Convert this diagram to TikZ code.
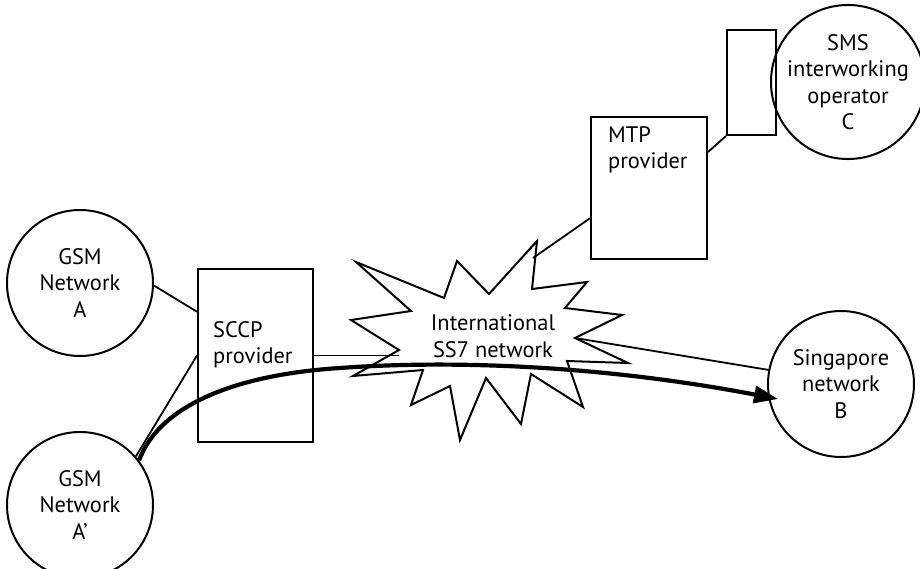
\documentclass[tikz,border=0pt]{standalone}
\usepackage{fontspec}
\setmainfont{PT Sans}
\usetikzlibrary{arrows.meta,calc}
\begin{document}
\begin{tikzpicture}[x=1bp,y=-1bp,
  every node/.style={font=\fontsize{22.5}{26.5}\selectfont},
  netcircle/.style={draw,circle,line width=2bp,minimum size=146bp,inner sep=0pt,align=center},
  box/.style={draw,rectangle,line width=2bp,inner sep=0pt},
  label text/.style={inner sep=0pt,align=left,anchor=west},
  link/.style={line width=1.8bp},
  route/.style={line width=4.2bp,-{Triangle[length=24bp,width=17bp]}}]
\useasboundingbox (0,0) rectangle (920,569);

% networks
\node[netcircle] (a)  at (80,283)  {GSM\\Network\\A};
\node[netcircle] (ap) at (80,505)  {GSM\\Network\\A’};
\node[netcircle] (b)  at (841,384) {Singapore\\network\\B};
\node[netcircle] (c)  at (848,82)  {SMS\\interworking\\operator\\C};

% providers
\node[box,minimum width=115bp,minimum height=173bp] (sccp) at (255.5,355.5) {};
\node[label text] (sccptext) at (213,345) {SCCP\\provider};
\node[box,minimum width=116bp,minimum height=142bp] (mtp) at (649,188) {};
\node[label text] (mtptext) at (608,150) {MTP\\provider};
\node[box,minimum width=49bp,minimum height=105bp] (port) at (751.5,82.5) {};

% international SS7 network (starburst)
\foreach \n/\p in {1/{356,262},2/{444,298},3/{457,261},4/{489,294},
                   5/{537,241},6/{532,289},7/{587,282},8/{565,308},
                   9/{622,315},10/{575,338},11/{628,363},12/{567,361},
                   13/{583,407},14/{531,374},15/{521,424},16/{486,378},
                   17/{460,440},18/{450,386},19/{411,405},20/{423,370},
                   21/{353,376},22/{399,350},23/{351,320},24/{411,311}}
  \coordinate (s\n) at (\p);
\draw[line width=2bp,line join=miter]
  (s1) -- (s2) -- (s3) -- (s4) -- (s5) -- (s6) -- (s7) -- (s8) -- (s9)
  -- (s10) -- (s11) -- (s12) -- (s13) -- (s14) -- (s15) -- (s16) -- (s17)
  -- (s18) -- (s19) -- (s20) -- (s21) -- (s22) -- (s23) -- (s24) -- cycle;
\node[inner sep=0pt,align=center] (ss7) at (493,336) {International\\SS7 network};
\coordinate (ss7n) at (533,258);

% links
\draw[link] (a.-2) -- ($(sccp.north west)!0.25!(sccp.south west)$);
\draw[link] (ap.41) -- (sccp.west);
\draw[link] (sccp.east) -- (sccp.east -| s22);
\draw[link] ($(mtp.north west)!0.71!(mtp.south west)$) -- (ss7n);
\draw[link] ($(mtp.north east)!0.25!(mtp.south east)$) -- (port.south west);
\draw[link] (s10) -- (b.169);

% message route from A' to B
\coordinate (bend) at ($(b.center)+(-63,15)$);
\draw[route] (ap.37) .. controls (158,408) and (230,375) .. (340,368)
  .. controls (450,360) and (600,365) .. (bend);
\end{tikzpicture}
\end{document}
